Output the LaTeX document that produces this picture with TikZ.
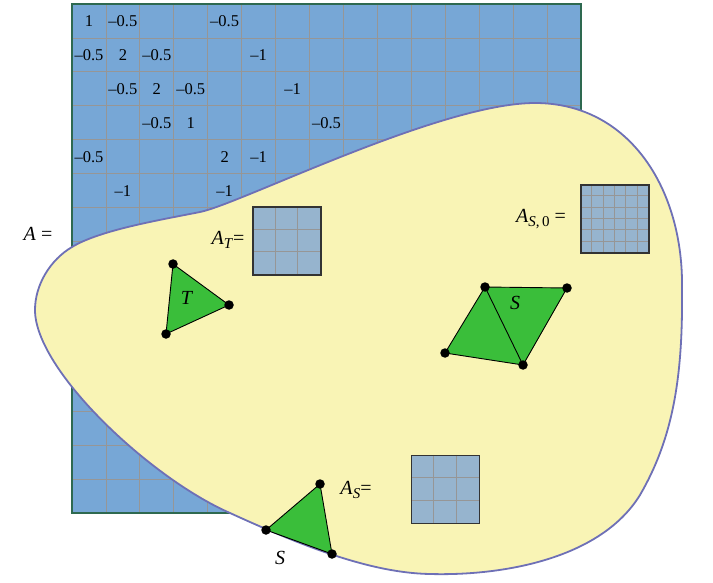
\documentclass[tikz,border=0pt]{standalone}
\usepackage{fontspec}
\setmainfont{Liberation Serif}
\definecolor{matfill}{RGB}{119,167,214}
\definecolor{matborder}{RGB}{46,105,80}
\definecolor{gridc}{RGB}{150,150,150}
\definecolor{blobfill}{RGB}{249,244,181}
\definecolor{blobline}{RGB}{110,112,182}
\definecolor{smfill}{RGB}{150,180,206}
\definecolor{trifill}{RGB}{58,190,58}
\tikzset{
  num/.style={font=\fontsize{16.5}{18}\selectfont, inner sep=0pt},
  lbl/.style={font=\fontsize{20}{22}\selectfont, inner sep=0pt},
  smat/.style={draw=black!80, line width=1.3pt, fill=smfill, minimum size=68pt, inner sep=0pt},
  tri/.style={fill=trifill, draw=black, line width=0.9pt, line join=round},
  vdot/.style={circle, fill=black, minimum size=9.5pt, inner sep=0pt},
}
\newcommand{\lbA}[1]{\textit{A}\raisebox{-0.45ex}{\fontsize{15}{17}\selectfont #1}}
\begin{document}
\begin{tikzpicture}[x=1pt,y=-1pt]
\useasboundingbox (0,0) rectangle (713,583);
% big matrix
\fill[matfill] (72,4) rectangle (581,513);
\foreach \k in {1,...,14}{
  \draw[gridc, line width=0.8pt] ({72+33.93*\k},4) -- ({72+33.93*\k},513);
  \draw[gridc, line width=0.8pt] (72,{4+33.93*\k}) -- (581,{4+33.93*\k});
}
\draw[matborder, line width=1.2pt] (72,4) rectangle (581,513);
\foreach \r/\c/\v in {1/1/1, 1/2/--0.5, 1/5/--0.5,
  2/1/--0.5, 2/2/2, 2/3/--0.5, 2/6/--1,
  3/2/--0.5, 3/3/2, 3/4/--0.5, 3/7/--1,
  4/3/--0.5, 4/4/1, 4/8/--0.5,
  5/1/--0.5, 5/5/2, 5/6/--1,
  6/2/--1, 6/5/--1}
  \node[num] (m\r-\c) at ({72+33.93*(\c-0.5)},{4+33.93*(\r-0.5)}) {\v};
% blob
\filldraw[fill=blobfill, draw=blobline, line width=1.8pt]
  (35,310) .. controls (35,285) and (50,260) .. (72,247)
  .. controls (100,230) and (160,220) .. (200,212)
  .. controls (240,204) and (440,103) .. (535,103)
  .. controls (630,103) and (684,190) .. (682,290)
  .. controls (683,380) and (672,440) .. (640,495)
  .. controls (600,560) and (500,576) .. (430,574)
  .. controls (370,573) and (300,545) .. (230,513)
  .. controls (150,478) and (35,370) .. (35,310) -- cycle;
% small matrices
\node[smat] (AT) at (287,241) {};
\foreach \k in {1,2}{
  \draw[gridc, line width=0.8pt] ([xshift={68*\k/3}]AT.north west) -- ([xshift={68*\k/3}]AT.south west);
  \draw[gridc, line width=0.8pt] ([yshift={-68*\k/3}]AT.north west) -- ([yshift={-68*\k/3}]AT.north east);
}
\node[smat, fill=none] at (AT) {};
\node[smat] (AS0) at (615,219) {};
\foreach \k in {1,...,5}{
  \draw[gridc, line width=0.8pt] ([xshift={68*\k/6}]AS0.north west) -- ([xshift={68*\k/6}]AS0.south west);
  \draw[gridc, line width=0.8pt] ([yshift={-68*\k/6}]AS0.north west) -- ([yshift={-68*\k/6}]AS0.north east);
}
\node[smat, fill=none] at (AS0) {};
\node[smat] (AS) at (445.5,489.5) {};
\foreach \k in {1,2}{
  \draw[gridc, line width=0.8pt] ([xshift={68*\k/3}]AS.north west) -- ([xshift={68*\k/3}]AS.south west);
  \draw[gridc, line width=0.8pt] ([yshift={-68*\k/3}]AS.north west) -- ([yshift={-68*\k/3}]AS.north east);
}
\node[smat, fill=none] at (AS) {};
% triangle T
\coordinate (t1) at (173,264);
\coordinate (t2) at (229,305);
\coordinate (t3) at (166,334);
\filldraw[tri] (t1) -- (t2) -- (t3) -- cycle;
% quad S
\coordinate (q1) at (485,287);
\coordinate (q2) at (567,288);
\coordinate (q3) at (523,365);
\coordinate (q4) at (445,353);
\filldraw[tri] (q1) -- (q2) -- (q3) -- (q4) -- cycle;
\draw[black, line width=0.9pt] (q1) -- (q3);
% boundary triangle
\coordinate (b1) at (320,484);
\coordinate (b2) at (266,530);
\coordinate (b3) at (332,554);
\filldraw[tri] (b1) -- (b2) -- (b3) -- cycle;
\foreach \p in {t1,t2,t3,q1,q2,q3,q4,b1,b2,b3}
  \node[vdot] (d\p) at (\p) {};
% labels
\node[lbl] (lA) at (38,234) {\textit{A} =};
\node[lbl] (lAT) at (228,240) {\lbA{\textit{T}}=};
\node[lbl] (lAS0) at (541,219) {\lbA{\textit{S},\,0} =};
\node[lbl] (lAS) at (356,490) {\lbA{\textit{S}}=};
\node[lbl] (lT) at (187,298) {\textit{T}};
\node[lbl] (lS1) at (515,303) {\textit{S}};
\node[lbl] (lS2) at (280,558) {\textit{S}};
\end{tikzpicture}
\end{document}
